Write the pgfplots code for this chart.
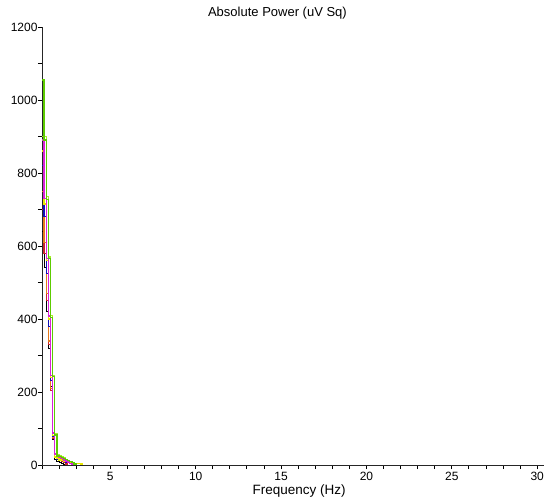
\documentclass[border=0pt]{standalone}
\usepackage{fontspec}
\setmainfont{Liberation Sans}
\usepackage{pgfplots}
\pgfplotsset{compat=1.18}
\definecolor{cgreen}{HTML}{5CCB00}
\definecolor{clgreen}{HTML}{A6EE2A}
\definecolor{cyellow}{HTML}{E6E600}
\definecolor{cmag}{HTML}{D820D8}
\definecolor{cblue}{HTML}{1010B8}
\definecolor{corange}{HTML}{E57A1A}
\definecolor{cred}{HTML}{C82828}
\begin{document}
\begin{tikzpicture}
\begin{axis}[
  scale only axis,
  width=502bp, height=438bp,
  xmin=1, xmax=30.4, ymin=0, ymax=1200,
  axis x line=bottom, axis y line=left,
  axis line style={-, line width=0.9bp, black!85},
  xtick={5,10,...,30}, minor xtick={1,...,30},
  ytick={0,200,...,1200}, minor ytick={100,300,...,1100},
  tick align=outside, major tick length=4bp, minor tick length=4bp,
  tick style={black, line width=0.9bp},
  /pgf/number format/assume math mode=true,
  /pgf/number format/1000 sep={},
  ticklabel style={font=\fontsize{12bp}{14bp}\selectfont},
  yticklabel style={xshift=3bp},
  title={Absolute Power (uV Sq)},
  title style={at={(axis description cs:0.469,1)}, anchor=base, yshift=5bp, font=\fontsize{13bp}{15bp}\selectfont},
  xlabel={Frequency (Hz)},
  xlabel style={at={(axis description cs:0.512,0)}, anchor=base, yshift=-29bp, font=\fontsize{13.5bp}{15bp}\selectfont},
  every axis plot/.append style={const plot, mark=none, line width=1.3bp},
]
% black (underneath)
\addplot[black, line width=0.9bp] coordinates {(1,640) (1.125,540) (1.25,420) (1.375,320) (1.5,215) (1.625,70) (1.75,15) (1.875,11) (2.0,8) (2.125,5) (2.25,2) (2.375,0)};
% red
\addplot[cred] coordinates {(1,700) (1.125,580) (1.25,450) (1.375,330) (1.5,205) (1.625,74) (1.75,20) (1.875,15) (2.0,12) (2.125,9) (2.25,6) (2.375,3) (2.5,0)};
% orange
\addplot[corange] coordinates {(1,750) (1.125,610) (1.25,470) (1.375,340) (1.5,210) (1.625,76) (1.75,28) (1.875,22) (2.0,19) (2.125,16) (2.25,13) (2.375,10) (2.5,7) (2.625,4) (2.75,2) (2.875,0)};
% blue
\addplot[cblue] coordinates {(1,820) (1.125,680) (1.25,525) (1.375,380) (1.5,232) (1.625,78) (1.75,20) (1.875,16) (2.0,14) (2.125,12) (2.25,10) (2.375,8) (2.5,6) (2.625,4) (2.75,2) (2.875,0)};
% yellow
\addplot[cyellow] coordinates {(1,860) (1.125,715) (1.25,560) (1.375,400) (1.5,240) (1.625,80) (1.75,22) (1.875,17) (2.0,14) (2.125,12) (2.25,10) (2.375,9) (2.5,8) (2.625,7) (2.75,6) (2.875,5) (3.0,5) (3.125,4) (3.25,3) (3.375,0)};
% magenta
\addplot[cmag] coordinates {(1,890) (1.125,730) (1.25,566) (1.375,408) (1.5,245) (1.625,88) (1.75,30) (1.875,24) (2.0,20) (2.125,17) (2.25,14) (2.375,11) (2.5,8) (2.625,5) (2.75,2) (2.875,0)};
% light green
\addplot[clgreen] coordinates {(1,900) (1.125,900) (1.25,735) (1.375,570) (1.5,410) (1.625,246) (1.75,85) (1.875,28) (2.0,25) (2.125,22) (2.25,19) (2.375,16) (2.5,13) (2.625,10) (2.75,7) (2.875,4) (3.0,0)};
% green
\addplot[cgreen] coordinates {(1,1055) (1.125,890) (1.25,728) (1.375,566) (1.5,404) (1.625,242) (1.75,82) (1.875,25) (2.0,23) (2.125,21) (2.25,18) (2.375,15) (2.5,12) (2.625,9) (2.75,6) (2.875,3) (3.0,0)};
\end{axis}
\pgfresetboundingbox
\path[use as bounding box] (-42bp,-35bp) rectangle (502bp,465bp);
\end{tikzpicture}
\end{document}
